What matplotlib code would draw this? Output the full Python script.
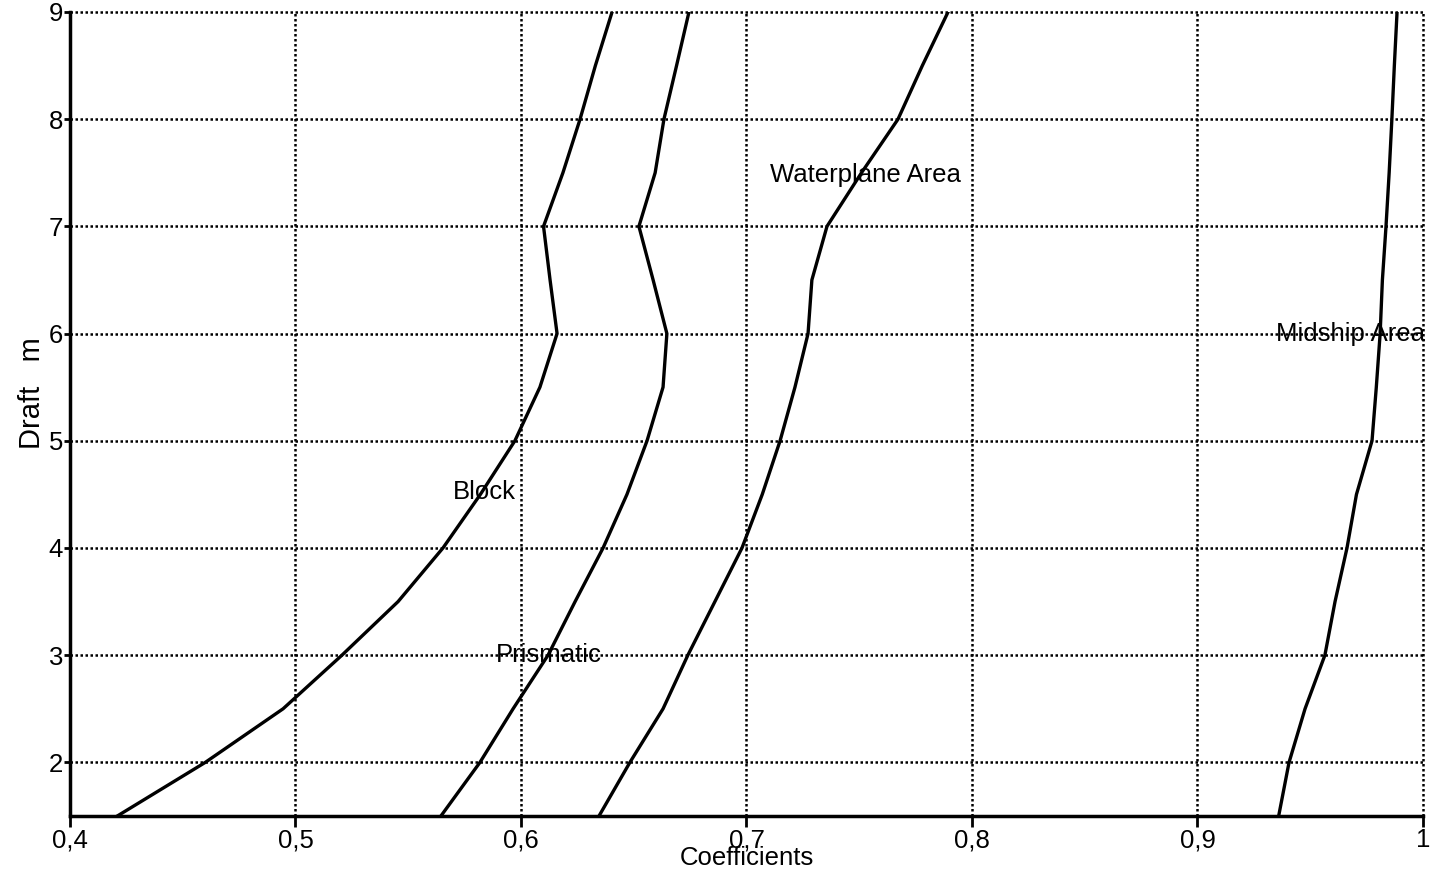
import numpy as np
import matplotlib.pyplot as plt

plt.rcParams['font.family'] = ['Liberation Sans', 'DejaVu Sans']

# Draft values (m) and hull form coefficients
draft = [1.5, 2.0, 2.5, 3.0, 3.5, 4.0, 4.5, 5.0, 5.5, 6.0, 6.5, 7.0, 7.5, 8.0, 8.5, 9.0]
block = [0.421, 0.460, 0.4945, 0.5206, 0.5455, 0.5654, 0.582, 0.5973, 0.6084, 0.616,
         0.6129, 0.610, 0.6186, 0.6262, 0.633, 0.6404]
prismatic = [0.5645, 0.5818, 0.5965, 0.612, 0.624, 0.6364, 0.647, 0.6559, 0.663, 0.6647,
             0.6586, 0.6523, 0.6595, 0.6634, 0.669, 0.6745]
waterplane = [0.6346, 0.6483, 0.663, 0.674, 0.686, 0.698, 0.707, 0.7149, 0.7215, 0.7273,
              0.729, 0.7357, 0.751, 0.7672, 0.778, 0.7894]
midship = [0.936, 0.9406, 0.9477, 0.9565, 0.961, 0.9663, 0.9705, 0.9774, 0.9793, 0.981,
           0.982, 0.9836, 0.985, 0.9862, 0.9873, 0.9885]

x_ticks = [0.4, 0.5, 0.6, 0.7, 0.8, 0.9, 1.0]
x_ticklabels = ["0,4", "0,5", "0,6", "0,7", "0,8", "0,9", "1"]
y_ticks = [2, 3, 4, 5, 6, 7, 8, 9]

# curve names and where they are written
labels = ["Block", "Prismatic", "Waterplane Area", "Midship Area"]
label_pos = [(0.5698, 4.52), (0.589, 3.0), (0.7104, 7.48), (0.935, 6.0)]

fig = plt.figure(figsize=(14.31, 8.73), dpi=100)
ax = fig.add_axes([0.0489, 0.0653, 0.9455, 0.921])

for serie in [block, prismatic, waterplane, midship]:
    ax.plot(serie, draft, color="black", linewidth=2.4)

for txt, (lx, ly) in zip(labels, label_pos):
    ax.text(lx, ly, txt, fontsize=18.5, va="center", ha="left", color="black")

ax.set_xlim(0.4, 1.0)
ax.set_ylim(1.5, 9)
ax.set_xticks(x_ticks)
ax.set_xticklabels(x_ticklabels)
ax.set_yticks(y_ticks)
ax.tick_params(axis="both", labelsize=18.5, direction="out", width=2, colors="black")
ax.tick_params(axis="x", length=8, pad=1)
ax.tick_params(axis="y", length=4, pad=1)

ax.grid(True, color="black", linestyle=(0, (1, 1)), linewidth=1.8)
for line in ax.get_xgridlines() + ax.get_ygridlines():
    line.set_clip_on(False)

ax.spines["top"].set_visible(False)
ax.spines["right"].set_visible(False)
ax.spines["left"].set_linewidth(2.5)
ax.spines["bottom"].set_linewidth(2.5)

ax.set_xlabel("Coefficients", fontsize=18.5, labelpad=-5)
ax.set_ylabel("Draft   m", fontsize=21)
ax.yaxis.set_label_coords(-0.0175, 0.526)

plt.savefig("out.png", dpi=100)
